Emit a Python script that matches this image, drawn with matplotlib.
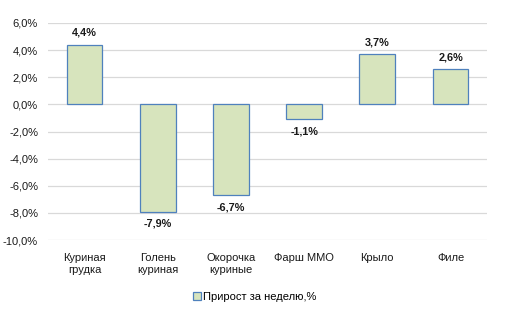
import matplotlib

matplotlib.use("Agg")
import matplotlib.pyplot as plt
from matplotlib.patches import Patch
from matplotlib.ticker import FuncFormatter

categories = ["Куриная\nгрудка", "Голень\nкуриная", "Окорочка\nкуриные",
              "Фарш ММО", "Крыло", "Филе"]
growth = [4.4, -7.9, -6.7, -1.1, 3.7, 2.6]
series_name = "Прирост за неделю,%"

FILL = "#D7E4BD"
EDGE = "#4F81BD"

plt.rcParams["font.family"] = ["Liberation Sans", "DejaVu Sans"]

fig = plt.figure(figsize=(5.09, 3.33), dpi=100)
ax = fig.add_axes((0.094, 0.279, 0.863, 0.652))

x = range(len(categories))
bars = ax.bar(x, growth, width=0.49, color=FILL, edgecolor=EDGE,
              linewidth=0.9, zorder=3)

for b, v in zip(bars, growth):
    label = f"{v:.1f}%".replace(".", ",")
    if v >= 0:
        ax.annotate(label, (b.get_x() + b.get_width() / 2, v),
                    xytext=(0, 5), textcoords="offset points",
                    ha="center", va="bottom", fontsize=7.8,
                    fontweight="bold", color="#1a1a1a")
    else:
        ax.annotate(label, (b.get_x() + b.get_width() / 2, v),
                    xytext=(0, -5), textcoords="offset points",
                    ha="center", va="top", fontsize=7.8,
                    fontweight="bold", color="#1a1a1a")

ax.set_ylim(-10, 6)
ax.set_xlim(-0.5, len(categories) - 0.5)
ax.set_yticks(range(-10, 7, 2))
ax.yaxis.set_major_formatter(
    FuncFormatter(lambda v, _: f"{v:.1f}%".replace(".", ",")))
ax.set_xticks(list(x))
ax.set_xticklabels(categories, fontsize=8, color="#1a1a1a",
                   linespacing=1.25)
ax.tick_params(axis="y", labelsize=8, colors="#1a1a1a", length=0, pad=7)
ax.tick_params(axis="x", length=0, pad=9)
ax.grid(axis="y", color="#D9D9D9", linewidth=0.9, zorder=0)
for s in ax.spines.values():
    s.set_visible(False)

fig.legend(handles=[Patch(facecolor=FILL, edgecolor=EDGE, linewidth=0.9,
                          label=series_name)],
           loc="center", bbox_to_anchor=(0.5, 0.108), frameon=False,
           fontsize=8, handlelength=0.7, handleheight=0.7,
           handletextpad=0.2)

fig.savefig("out.png", dpi=100)
